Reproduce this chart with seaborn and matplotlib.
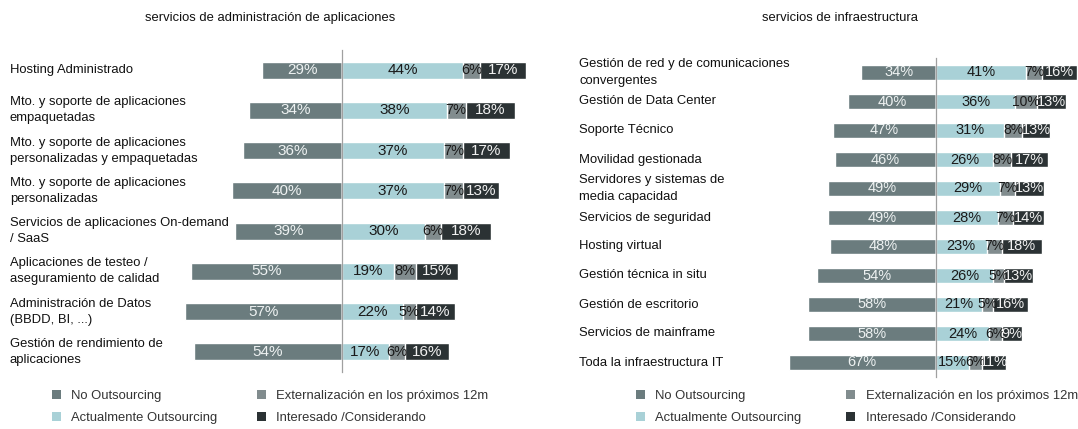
import matplotlib.pyplot as plt
import matplotlib.transforms as mtransforms
from matplotlib.patches import Patch
import numpy as np
import pandas as pd
import seaborn as sns

# panel 1: servicios de administración de aplicaciones
apps_cats = ["Hosting Administrado",
             "Mto. y soporte de aplicaciones\nempaquetadas",
             "Mto. y soporte de aplicaciones\npersonalizadas y empaquetadas",
             "Mto. y soporte de aplicaciones\npersonalizadas",
             "Servicios de aplicaciones On-demand\n/ SaaS",
             "Aplicaciones de testeo /\naseguramiento de calidad",
             "Administración de Datos\n(BBDD, BI, ...)",
             "Gestión de rendimiento de\naplicaciones"]
apps_no = [29, 34, 36, 40, 39, 55, 57, 54]
apps_act = [44, 38, 37, 37, 30, 19, 22, 17]
apps_ext = [6, 7, 7, 7, 6, 8, 5, 6]
apps_int = [17, 18, 17, 13, 18, 15, 14, 16]

# panel 2: servicios de infraestructura
infra_cats = ["Gestión de red y de comunicaciones\nconvergentes",
              "Gestión de Data Center",
              "Soporte Técnico",
              "Movilidad gestionada",
              "Servidores y sistemas de\nmedia capacidad",
              "Servicios de seguridad",
              "Hosting virtual",
              "Gestión técnica in situ",
              "Gestión de escritorio",
              "Servicios de mainframe",
              "Toda la infraestructura IT"]
infra_no = [34, 40, 47, 46, 49, 49, 48, 54, 58, 58, 67]
infra_act = [41, 36, 31, 26, 29, 28, 23, 26, 21, 24, 15]
infra_ext = [7, 10, 8, 8, 7, 7, 7, 5, 5, 6, 6]
infra_int = [16, 13, 13, 17, 13, 14, 18, 13, 16, 9, 11]

series_names = ["No Outsourcing", "Actualmente Outsourcing",
                "Externalización en los próximos 12m", "Interesado /Considerando"]

C_NO = "#6b7c7e"
C_ACT = "#a9d1d7"
C_EXT = "#818c8e"
C_INT = "#2b3234"

sns.set_style("white")
plt.rcParams["font.family"] = ["Liberation Sans", "DejaVu Sans"]

W, H = 1078, 429
fig = plt.figure(figsize=(W / 100, H / 100), dpi=100)


def px_axes(x0, x1, y0, y1):
    return fig.add_axes([x0 / W, 1 - y1 / H, (x1 - x0) / W, (y1 - y0) / H])


def draw_panel(ax, cats, no, act, ext, inte, xlim, bar_w, label_x, title, title_x, pct_fs):
    df = pd.DataFrame({"cat": cats, "no": no, "act": act, "ext": ext, "int": inte})
    df["neg_no"] = -df["no"]
    df["c1"] = df["act"]
    df["c2"] = df["act"] + df["ext"]
    df["c3"] = df["act"] + df["ext"] + df["int"]

    for col, color in [("neg_no", C_NO), ("c3", C_INT), ("c2", C_EXT), ("c1", C_ACT)]:
        sns.barplot(data=df, y="cat", x=col, color=color, saturation=1,
                    width=bar_w, orient="h", ax=ax, errorbar=None)

    n = len(cats)
    ax.set_xlim(*xlim)
    ax.set_ylim(n - 0.5, -0.5)
    ax.set_xlabel("")
    ax.set_ylabel("")
    ax.set_xticks([])
    ax.set_yticks([])
    ax.set_yticks(np.arange(-0.5, n, 1), minor=True)
    ax.tick_params(axis="y", which="minor", length=4, direction="out",
                   color="#a0a0a0", width=0.8, labelleft=False)
    for s in ["top", "right", "bottom"]:
        ax.spines[s].set_visible(False)
    ax.spines["left"].set_position(("data", 0))
    ax.spines["left"].set_color("#a0a0a0")
    ax.spines["left"].set_linewidth(0.9)

    for i, r in df.iterrows():
        ax.text(-r["no"] / 2, i, f"{r['no']}%", ha="center", va="center",
                color="#eef2f2", fontsize=pct_fs)
        ax.text(r["act"] / 2, i, f"{r['act']}%", ha="center", va="center",
                color="#1a1a1a", fontsize=pct_fs)
        ax.text(r["act"] + r["ext"] / 2, i, f"{r['ext']}%", ha="center", va="center",
                color="#1a1a1a", fontsize=pct_fs - 0.5)
        ax.text(r["c2"] + r["int"] / 2, i, f"{r['int']}%", ha="center", va="center",
                color="#f2f2f2", fontsize=pct_fs)

    trans = mtransforms.blended_transform_factory(fig.transFigure, ax.transData)
    for i, c in enumerate(cats):
        ax.text(label_x / W, i, c, transform=trans, ha="left", va="center",
                fontsize=9.4, color="#111111", linespacing=1.45)

    fig.text(title_x / W, 1 - 18 / H, title, ha="center", va="center",
             fontsize=9.4, color="#111111")


ax1 = px_axes(342 - 60 * 2.75, 342 + 70 * 2.75, 50, 372)
draw_panel(ax1, apps_cats, apps_no, apps_act, apps_ext, apps_int,
           (-60, 70), 0.42, 10, "servicios de administración de aplicaciones", 270, 11)

ax2 = px_axes(936 - 68 * 2.2, 936 + 64 * 2.2, 58, 377)
draw_panel(ax2, infra_cats, infra_no, infra_act, infra_ext, infra_int,
           (-68, 64), 0.52, 579, "servicios de infraestructura", 840, 10.5)

handles = [Patch(facecolor=c, edgecolor="none") for c in (C_NO, C_ACT, C_EXT, C_INT)]
for lx, cs in ((40, 3.0), (624, 3.4)):
    fig.legend(handles, series_names, ncol=2, frameon=False,
               loc="upper left", bbox_to_anchor=(lx / W, 1 - 378 / H),
               fontsize=9.4, handlelength=0.7, handleheight=0.7,
               handletextpad=0.8, columnspacing=cs, labelspacing=0.75,
               labelcolor="#333333")

fig.savefig("out.png", dpi=100)
